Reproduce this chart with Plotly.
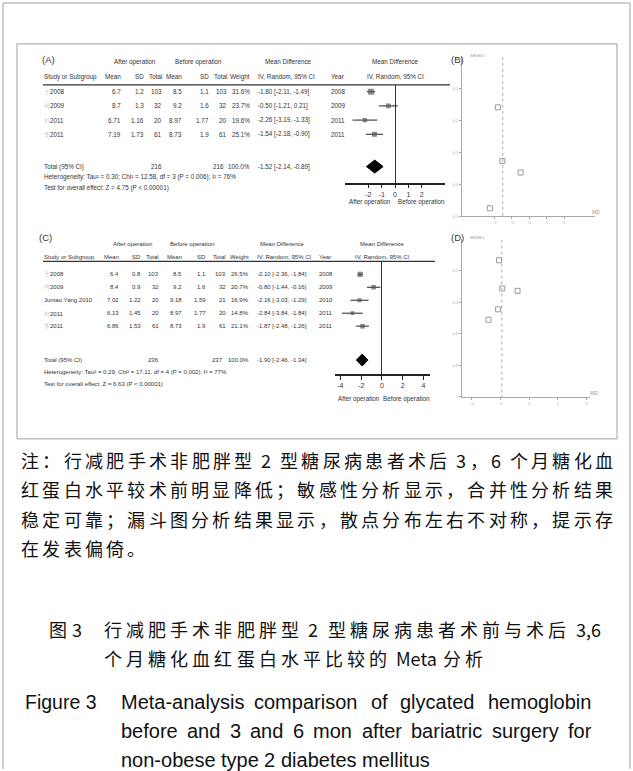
import plotly.graph_objects as go

W, H = 633, 771

# ---------------- data: panel A (3 months) ----------------
a_prefix = ["王", "何", "刘", "李"]
a_label = ["2008", "2009", "2011", "2011"]
a_year = ["2008", "2009", "2011", "2011"]
a_after_mean = ["6.7", "8.7", "6.71", "7.19"]
a_after_sd = ["1.2", "1.3", "1.16", "1.73"]
a_after_n = [103, 32, 20, 61]
a_before_mean = ["8.5", "9.2", "8.97", "8.73"]
a_before_sd = ["1.1", "1.6", "1.77", "1.9"]
a_before_n = [103, 32, 20, 61]
a_weight = [31.6, 23.7, 19.6, 25.1]
a_md = [-1.80, -0.50, -2.26, -1.54]
a_lo = [-2.11, -1.21, -3.19, -2.18]
a_hi = [-1.49, 0.21, -1.33, -0.90]
a_total = dict(n1=216, n2=216, w="100.0%", md=-1.52, lo=-2.14, hi=-0.89)
a_het = "Heterogeneity: Tau² = 0.30; Chi² = 12.58, df = 3 (P = 0.006); I² = 76%"
a_test = "Test for overall effect: Z = 4.75 (P &lt; 0.00001)"
a_ticks = [-2, -1, 0, 1, 2]

# ---------------- data: panel C (6 months) ----------------
c_prefix = ["王", "何", "", "刘", "李"]
c_label = ["2008", "2009", "Juntao Yang 2010", "2011", "2011"]
c_year = ["2008", "2009", "2010", "2011", "2011"]
c_after_mean = ["6.4", "8.4", "7.02", "6.13", "6.86"]
c_after_sd = ["0.8", "0.9", "1.22", "1.45", "1.53"]
c_after_n = [103, 32, 20, 20, 61]
c_before_mean = ["8.5", "9.2", "9.18", "8.97", "8.73"]
c_before_sd = ["1.1", "1.6", "1.59", "1.77", "1.9"]
c_before_n = [103, 32, 21, 20, 61]
c_weight = [26.5, 20.7, 16.9, 14.8, 21.1]
c_md = [-2.10, -0.80, -2.16, -2.84, -1.87]
c_lo = [-2.36, -1.44, -3.03, -3.84, -2.48]
c_hi = [-1.84, -0.16, -1.29, -1.84, -1.26]
c_total = dict(n1=236, n2=237, w="100.0%", md=-1.90, lo=-2.46, hi=-1.34)
c_het = "Heterogeneity: Tau² = 0.29; Chi² = 17.11, df = 4 (P = 0.002); I² = 77%"
c_test = "Test for overall effect: Z = 6.63 (P &lt; 0.00001)"
c_ticks = [-4, -2, 0, 2, 4]

# funnel axes ticks
b_xticks = [-2, -1, 0, 1, 2]
b_yticks = [0.1, 0.2, 0.3, 0.4, 0.5]
d_xticks = [-4, -2, 0, 2, 4]
d_yticks = [0.2, 0.4, 0.6, 0.8, 1]

note_lines = [
    "注：行减肥手术非肥胖型 2 型糖尿病患者术后 3，6 个月糖化血",
    "红蛋白水平较术前明显降低；敏感性分析显示，合并性分析结果",
    "稳定可靠；漏斗图分析结果显示，散点分布左右不对称，提示存",
    "在发表偏倚。",
]
title_cn_num = "图 3"
title_cn = ["行减肥手术非肥胖型 2 型糖尿病患者术前与术后 3,6",
            "个月糖化血红蛋白水平比较的 Meta 分析"]
title_en_num = "Figure 3"
title_en = ["Meta-analysis comparison of glycated hemoglobin",
            "before and 3 and 6 mon after bariatric surgery for",
            "non-obese type 2 diabetes mellitus"]

# ---------------- helpers ----------------
FF = "Liberation Sans, Arial, sans-serif"
CJK = "Noto Sans CJK SC"
EN = "Liberation Sans, Arial, sans-serif"
TXT = "#333333"


def X(p):
    return p / W


def Y(p):
    return 1 - p / H


annotations = []
shapes = []


def ann(text, x, y, xanchor="left", size=6, color=TXT, family=FF):
    annotations.append(dict(text=text, x=X(x), y=Y(y), xref="paper", yref="paper",
                            xanchor=xanchor, yanchor="middle", showarrow=False,
                            font=dict(size=size, color=color, family=family),
                            borderpad=0))


def hline(x0, x1, y, color="#333", width=1):
    shapes.append(dict(type="line", xref="paper", yref="paper", x0=X(x0), x1=X(x1),
                       y0=Y(y), y1=Y(y), line=dict(color=color, width=width)))


def vline(x, y0, y1, color="#999", width=1):
    shapes.append(dict(type="line", xref="paper", yref="paper", x0=X(x), x1=X(x),
                       y0=Y(y0), y1=Y(y1), line=dict(color=color, width=width)))


ARIAL = dict(a=556, b=556, c=500, d=556, e=556, f=278, g=556, h=556, i=222, j=222, k=500,
             l=222, m=833, n=556, o=556, p=556, q=556, r=333, s=500, t=278, u=556, v=500,
             w=722, x=500, y=500, z=500)


def wlat(s, fs):
    tot = 0
    for ch in s:
        if ch.isdigit():
            tot += 556
        elif ch in "-":
            tot += 333
        elif ch in ",.":
            tot += 278
        elif ch.isupper():
            tot += 680
        else:
            tot += ARIAL.get(ch, 556)
    return tot * fs / 1000


def is_cjk(ch):
    return ord(ch) > 0x2E80


def place(line, x0, y, fs, family, color="#111", x1=None, extra=None, space=0.3):
    tokens = []
    buf, pend, buf_sb = "", 0.0, 0.0
    for ch in line:
        if ch == " ":
            if buf:
                tokens.append([buf, wlat(buf, fs), buf_sb]); buf = ""
            pend += space * fs
        elif is_cjk(ch):
            if buf:
                tokens.append([buf, wlat(buf, fs), buf_sb]); buf = ""
            tokens.append([ch, fs, pend]); pend = 0.0
        else:
            if not buf:
                buf_sb = pend; pend = 0.0
            buf += ch
    if buf:
        tokens.append([buf, wlat(buf, fs), buf_sb])
    natural = sum(t[1] for t in tokens) + sum(t[2] for t in tokens[1:])
    if x1 is not None:
        extra = (x1 - x0 - natural) / max(len(tokens) - 1, 1)
    if extra is None:
        extra = 0
    x = x0
    for k, (t, w, sb) in enumerate(tokens):
        if k > 0:
            x += sb + extra
        ann(t, x, y, "left", fs, color, family)
        x += w
    return extra


def forest_table(rows_y, prefix, label, year, am, asd, an, bm, bsd, bn, wt, md, lo, hi,
                 total, total_y, het, het_y, test, test_y, cols, hdr_y, letter, letter_xy,
                 ul_end, fx_center, fs):
    ann(letter, letter_xy[0], letter_xy[1], "left", 9.5)
    ann("After operation", cols["h_after"], hdr_y[0], "center", fs)
    ann("Before operation", cols["h_before"], hdr_y[0], "center", fs)
    ann("Mean Difference", cols["h_md"], hdr_y[0], "center", fs)
    ann("Mean Difference", fx_center, hdr_y[0], "center", fs)
    ann("Study or Subgroup", 43, hdr_y[1], "left", fs)
    for key, txt in [("am", "Mean"), ("asd", "SD"), ("an", "Total"), ("bm", "Mean"),
                     ("bsd", "SD"), ("bn", "Total"), ("w", "Weight")]:
        ann(txt, cols[key], hdr_y[1], "right", fs)
    ann("IV, Random, 95% CI", cols["ci"], hdr_y[1], "left", fs)
    ann("Year", cols["yr"], hdr_y[1], "left", fs)
    ann("IV, Random, 95% CI", fx_center, hdr_y[1], "center", fs)
    hline(43, ul_end, hdr_y[2], "#333", 1.2)
    for i, y in enumerate(rows_y):
        lab = (f"<span style='color:#c8c8c8'>{prefix[i]}</span>" if prefix[i] else "") + label[i]
        ann(lab, 43, y, "left", fs)
        ann(am[i], cols["am"], y, "right", fs)
        ann(asd[i], cols["asd"], y, "right", fs)
        ann(str(an[i]), cols["an"], y, "right", fs)
        ann(bm[i], cols["bm"], y, "right", fs)
        ann(bsd[i], cols["bsd"], y, "right", fs)
        ann(str(bn[i]), cols["bn"], y, "right", fs)
        ann(f"{wt[i]:.1f}%", cols["w"], y, "right", fs)
        ann(f"{md[i]:.2f} [{lo[i]:.2f}, {hi[i]:.2f}]", cols["ci"], y, "left", fs)
        ann(year[i], cols["yr"], y, "left", fs)
    ann("Total (95% CI)", 43, total_y, "left", fs)
    ann(str(total["n1"]), cols["an"], total_y, "right", fs)
    ann(str(total["n2"]), cols["bn"] - 3, total_y, "right", fs)
    ann(total["w"], cols["w"], total_y, "right", fs)
    ann(f"{total['md']:.2f} [{total['lo']:.2f}, {total['hi']:.2f}]", cols["ci"], total_y, "left", fs)
    ann(het, 43, het_y, "left", fs)
    ann(test, 43, test_y, "left", fs)


fig = go.Figure()

# ---------------- Panel A ----------------
A_ROW0, A_UNIT = 92.0, 14.2
A_TOP, A_BOT = 85.0, 183.0
a_rows = list(range(len(a_md)))
a_total_row = (167 - A_ROW0) / A_UNIT
forest_table([A_ROW0 + r * A_UNIT for r in a_rows], a_prefix, a_label, a_year,
             a_after_mean, a_after_sd, a_after_n, a_before_mean, a_before_sd, a_before_n,
             a_weight, a_md, a_lo, a_hi, a_total, 167, a_het, 177.5, a_test, 188,
             dict(h_after=135, h_before=198, h_md=288, am=122, asd=145, an=163, bm=183,
                  bsd=210, bn=228, w=251, ci=257, yr=330),
             (62, 77, 85), "(A)", (41, 60), 450, 395, 6.3)
ann("After operation", 370, 203, "center", 6.3)
ann("Before operation", 421, 203, "center", 6.3)

fig.add_trace(go.Scatter(
    x=a_md, y=a_rows, mode="markers", xaxis="x", yaxis="y",
    marker=dict(symbol="square", size=[2 + w * 0.12 for w in a_weight], color="#555",
                line=dict(width=0)),
    error_x=dict(type="data", symmetric=False,
                 array=[h - m for h, m in zip(a_hi, a_md)],
                 arrayminus=[m - l for m, l in zip(a_md, a_lo)],
                 thickness=1, width=0, color="#222"),
    hoverinfo="skip"))
dh = 6.5 / A_UNIT
fig.add_trace(go.Scatter(
    x=[a_total["lo"], a_total["md"], a_total["hi"], a_total["md"], a_total["lo"]],
    y=[a_total_row, a_total_row - dh, a_total_row, a_total_row + dh, a_total_row],
    mode="lines", fill="toself", fillcolor="#000", line=dict(color="#000", width=1),
    xaxis="x", yaxis="y", hoverinfo="skip"))

# ---------------- Panel C ----------------
C_ROW0, C_UNIT = 275.0, 13.0
C_TOP, C_BOT = 262.0, 375.0
c_rows = list(range(len(c_md)))
c_total_row = (361 - C_ROW0) / C_UNIT
forest_table([C_ROW0 + r * C_UNIT for r in c_rows], c_prefix, c_label, c_year,
             c_after_mean, c_after_sd, c_after_n, c_before_mean, c_before_sd, c_before_n,
             c_weight, c_md, c_lo, c_hi, c_total, 361, c_het, 373, c_test, 384.5,
             dict(h_after=132, h_before=192, h_md=282, am=120, asd=142, an=160, bm=183,
                  bsd=207, bn=227, w=250, ci=256, yr=318),
             (245, 258, 262), "(C)", (38, 238), 435, 382, 6.0)
ann("After operation", 359, 400, "center", 6.3)
ann("Before operation", 406, 400, "center", 6.3)

fig.add_trace(go.Scatter(
    x=c_md, y=c_rows, mode="markers", xaxis="x2", yaxis="y2",
    marker=dict(symbol="square", size=[2 + w * 0.12 for w in c_weight], color="#555",
                line=dict(width=0)),
    error_x=dict(type="data", symmetric=False,
                 array=[h - m for h, m in zip(c_hi, c_md)],
                 arrayminus=[m - l for m, l in zip(c_md, c_lo)],
                 thickness=1, width=0, color="#222"),
    hoverinfo="skip"))
dh = 6.0 / C_UNIT
fig.add_trace(go.Scatter(
    x=[c_total["lo"], c_total["md"], c_total["hi"], c_total["md"], c_total["lo"]],
    y=[c_total_row, c_total_row - dh, c_total_row, c_total_row + dh, c_total_row],
    mode="lines", fill="toself", fillcolor="#000", line=dict(color="#000", width=1),
    xaxis="x2", yaxis="y2", hoverinfo="skip"))

# ---------------- Funnel B / D ----------------
a_se = [(h - l) / 3.92 for h, l in zip(a_hi, a_lo)]
c_se = [(h - l) / 3.92 for h, l in zip(c_hi, c_lo)]
for md, se, xa, ya, pooled, ymax in [(a_md, a_se, "x3", "y3", a_total["md"], 0.5),
                                     (c_md, c_se, "x4", "y4", c_total["md"], 1.0)]:
    fig.add_trace(go.Scatter(x=[pooled, pooled], y=[0, ymax], mode="lines", xaxis=xa, yaxis=ya,
                             line=dict(color="#b0b0b0", width=1, dash="dot"), hoverinfo="skip"))
    fig.add_trace(go.Scatter(x=md, y=se, mode="markers", xaxis=xa, yaxis=ya,
                             marker=dict(symbol="square-open", size=5, color="#9a9a9a",
                                         line=dict(width=1)), hoverinfo="skip"))
ann("(B)", 450, 60, "left", 9.5)
ann("(D)", 450, 238, "left", 9.5)
ann("SE(MD)", 469, 56, "left", 4, "#999")
ann("SE(MD)", 469, 238, "left", 4, "#999")
ann("MD", 591, 213, "left", 5, "#999")
ann("MD", 589, 394, "left", 5, "#999")

# ---------------- frames ----------------
shapes.append(dict(type="rect", xref="paper", yref="paper", x0=X(17), x1=X(617), y0=Y(440), y1=Y(44),
                   line=dict(color="#a0a0a0", width=1)))
hline(3, 630, 3, "#a0a0a0", 1)
vline(3, 3, 771, "#a0a0a0", 1)
vline(630, 3, 771, "#a0a0a0", 1)

# ---------------- caption ----------------
ex = None
for i, line in enumerate(note_lines):
    y = 461 + i * 29.5
    if i < 3:
        ex = place(line, 20, y, 18, CJK, "#111", x1=612)
    else:
        place(line, 20, y, 18, CJK, "#111", extra=ex)
place(title_cn_num, 48, 631, 18, CJK, "#111")
ex2 = place(title_cn[0], 103, 631, 18, CJK, "#111", x1=600)
place(title_cn[1], 103, 660, 18, CJK, "#111", extra=ex2)
EFS = 20
ann(title_en_num, 24, 704, "left", 19.5, "#111", EN)
for i, line in enumerate(title_en):
    y = 704 + i * 29
    words = line.split(" ")
    ws = [wlat(w, EFS) for w in words]
    sp = 0.278 * EFS
    if i < 2:
        gap = (590 - 120 - sum(ws)) / (len(words) - 1)
    else:
        gap = sp
    x = 120
    for w, wd in zip(words, ws):
        ann(w, x, y, "left", EFS, "#111", EN)
        x += wd + gap

# ---------------- layout ----------------
def forest_x(dom, rng, ticks):
    return dict(domain=[X(dom[0]), X(dom[1])], range=rng, tickvals=ticks,
                ticktext=[str(t) for t in ticks], showgrid=False,
                showline=True, linecolor="#222", linewidth=1.5, ticks="outside", ticklen=4,
                tickcolor="#222", tickfont=dict(size=7, family=FF, color=TXT),
                zeroline=True, zerolinecolor="#333", zerolinewidth=1, fixedrange=True)


def funnel_ax(dom, rng, ticks, horizontal):
    d = dict(range=rng, tickvals=ticks, showgrid=False, zeroline=False, showline=True,
             linecolor="#a8a8a8", linewidth=1, ticks="outside", ticklen=2, tickcolor="#a8a8a8",
             tickfont=dict(size=4, family=FF, color="#aaa"))
    if horizontal:
        d["domain"] = [X(dom[0]), X(dom[1])]
    else:
        d["domain"] = [Y(dom[1]), Y(dom[0])]
    return d


fig.update_layout(
    width=W, height=H, margin=dict(l=0, r=0, t=0, b=0),
    paper_bgcolor="white", plot_bgcolor="rgba(0,0,0,0)", showlegend=False,
    xaxis=dict(**forest_x((345, 445), [-3.75, 3.75], a_ticks), anchor="y"),
    yaxis=dict(domain=[Y(A_BOT), Y(A_TOP)],
               range=[(A_BOT - A_ROW0) / A_UNIT, (A_TOP - A_ROW0) / A_UNIT],
               visible=False, anchor="x"),
    xaxis2=dict(**forest_x((335, 430), [-4.52, 4.62], c_ticks), anchor="y2"),
    yaxis2=dict(domain=[Y(C_BOT), Y(C_TOP)],
                range=[(C_BOT - C_ROW0) / C_UNIT, (C_TOP - C_ROW0) / C_UNIT],
                visible=False, anchor="x2"),
    xaxis3=dict(**funnel_ax((462, 595), [-3.85, 3.75], b_xticks, True), anchor="y3"),
    yaxis3=dict(**funnel_ax((57, 217), [0.5, 0], b_yticks, False), anchor="x3"),
    xaxis4=dict(**funnel_ax((462, 590), [-4.69, 4.27], d_xticks, True), anchor="y4"),
    yaxis4=dict(**funnel_ax((240, 398), [1, 0], d_yticks, False), anchor="x4"),
    annotations=annotations, shapes=shapes,
)

fig.write_html("out.html", config={"displayModeBar": False},
               post_script="document.body.style.margin='0';document.body.style.overflow='hidden';")
